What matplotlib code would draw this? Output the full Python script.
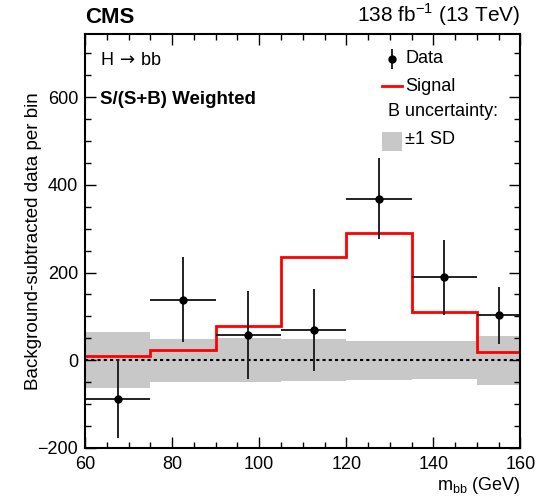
import matplotlib
matplotlib.use("Agg")
import matplotlib.pyplot as plt
from matplotlib.ticker import MultipleLocator
import numpy as np

plt.rcParams['font.family'] = ['Liberation Sans', 'DejaVu Sans']

# bin edges in m_bb (GeV)
edges = [60, 75, 90, 105, 120, 135, 150, 160]
# background-subtracted data
data_y = [-88, 138, 58, 69, 369, 189, 103]
data_err = [90, 97, 100, 94, 92, 85, 65]
# signal expectation
signal = [9, 23, 79, 236, 291, 110, 19]
# background +-1 SD band
b_unc = [64, 49, 50, 48, 44, 43, 56]

edges_a = np.array(edges)
centers = 0.5 * (edges_a[1:] + edges_a[:-1])
halfw = 0.5 * (edges_a[1:] - edges_a[:-1])
unc = np.array(b_unc)

fig = plt.figure(figsize=(5.49, 4.96), dpi=100)
ax = fig.add_axes([0.155, 0.097, 0.793, 0.835])

ax.stairs(unc, edges_a, baseline=-unc, fill=True, color='#c8c8c8', lw=0)
ax.axhline(0, color='black', lw=1.5, ls=(0, (1.5, 1.5)))
ax.stairs(signal, edges_a, baseline=None, color='red', lw=2)
ax.errorbar(centers, data_y, xerr=halfw, yerr=data_err, fmt='o', color='black',
            ecolor='#222222', elinewidth=1.4, markersize=5, capsize=0)

ax.set_xlim(60, 160)
ax.set_ylim(-200, 745)
ax.xaxis.set_major_locator(MultipleLocator(20))
ax.xaxis.set_minor_locator(MultipleLocator(5))
ax.yaxis.set_major_locator(MultipleLocator(200))
ax.yaxis.set_minor_locator(MultipleLocator(50))
ax.tick_params(which='both', direction='in', top=True, right=True, labelsize=13)
ax.tick_params(which='major', length=8, width=1)
ax.tick_params(which='minor', length=4, width=1)
ax.tick_params(axis='x', which='major', pad=6)
ax.tick_params(axis='y', which='major', pad=5)
for s in ax.spines.values():
    s.set_linewidth(1.5)

ax.set_ylabel('Background-subtracted data per bin', fontsize=13.5, labelpad=-3)
ax.set_xlabel(r'm$_{\mathregular{bb}}$ (GeV)', fontsize=13, loc='right', labelpad=1)

ax.text(0.0, 1.015, 'CMS', transform=ax.transAxes, fontsize=16, fontweight='bold',
        ha='left', va='bottom')
ax.text(1.0, 1.015, r'138 fb$^{\mathregular{-1}}$ (13 TeV)', transform=ax.transAxes,
        fontsize=15, ha='right', va='bottom')

ax.text(0.034, 0.935, r'H$\,\rightarrow\,$bb', transform=ax.transAxes,
        fontsize=13, ha='left', va='center')
ax.text(0.034, 0.842, 'S/(S+B) Weighted', transform=ax.transAxes, fontsize=13.5,
        fontweight='bold', ha='left', va='center')

# legend drawn by hand
tr = ax.transAxes
ax.errorbar([0.705], [0.940], yerr=[0.024], fmt='o', color='black', ecolor='#222222',
            elinewidth=1.4, markersize=5, transform=tr, clip_on=False)
ax.text(0.736, 0.940, 'Data', transform=tr, fontsize=13, ha='left', va='center')
ax.plot([0.681, 0.727], [0.873, 0.873], color='red', lw=2, transform=tr)
ax.text(0.736, 0.873, 'Signal', transform=tr, fontsize=13, ha='left', va='center')
ax.text(0.695, 0.812, 'B uncertainty:', transform=tr, fontsize=13, ha='left', va='center')
ax.add_patch(plt.Rectangle((0.681, 0.716), 0.046, 0.046, transform=tr,
                           color='#c8c8c8', lw=0))
ax.text(0.734, 0.744, '\u00b11 SD', transform=tr, fontsize=13, ha='left', va='center')

fig.savefig('out.png', dpi=100)
